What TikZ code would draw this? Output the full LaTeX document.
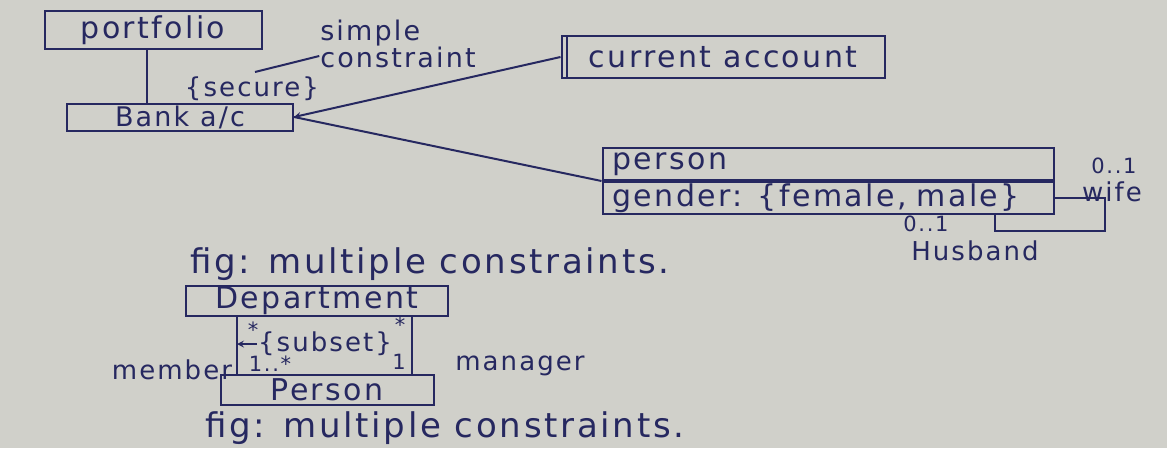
\documentclass[tikz,border=0pt]{standalone}
\usepackage{fontspec}
\setmainfont{DejaVu Sans}[LetterSpace=8]
\usetikzlibrary{positioning, arrows, calc}
\definecolor{paper}{RGB}{208,208,202}
\definecolor{ink}{RGB}{38,40,96}
\tikzset{
	>=stealth,
	box/.style={draw, rectangle, inner sep=0pt, font=\fontsize{30}{32}\selectfont},
	cls/.style={box, align=left, inner xsep=10pt},
	lbl/.style={inner sep=0pt, font=\fontsize{26}{28}\selectfont},
	mult/.style={inner sep=0pt, font=\fontsize{21}{23}\selectfont},
	figcap/.style={inner sep=0pt, font=\fontsize{34}{36}\selectfont},
}

\begin{document}
\begin{tikzpicture}[x=1pt, y=-1pt, line width=2pt, color=ink]
			\fill[paper] (0,0) rectangle (1167,448);
			\useasboundingbox (0,0) rectangle (1167,448);

			% secure association
			\node[box, minimum width=217pt, minimum height=38pt] (portfolio) at (153,30) {portfolio};
			\node[box, minimum width=226pt, minimum height=27pt, font=\fontsize{27}{29}\selectfont] (bankac) at (180,117) {Bank a/c};
			\node[lbl] (secure) at (252,89) {\{secure\}};
			\node[lbl, align=left, font=\fontsize{27}{22}\selectfont] (simplecons) at (398,44) {simple\\constraint};
			\coordinate (consptr) at (255,72);
			\node[box, minimum width=323pt, minimum height=42pt] (curacc) at (723,57) {current account};
			\node[cls, text width=431pt, minimum height=32pt] (pname) at (828,164) {person};
			\node[cls, text width=431pt, minimum height=32pt, below=0pt of pname] (pgender) {gender: \{female, male\}};

			\draw (portfolio.south -| 147,0) -- (bankac.north -| 147,0);
			\draw (consptr) -- ([yshift=-12pt]simplecons.west);
			\draw[->] (curacc.west) -- (bankac.east);
			\draw (pname.south west) -- (bankac.east);
			\draw ([xshift=6pt]curacc.north west) -- ([xshift=6pt]curacc.south west);

			% wife / husband
			\coordinate (loopr) at (1105,231);
			\coordinate (loopl) at (995,231);
			\draw (pgender.east) -| (loopr) -- (loopl) -- (loopl |- pgender.south);
			\node[mult] (wifemult) at (1114,166) {0..1};
			\node[lbl] (wife) at (1112,192) {wife};
			\node[mult] (husbmult) at (926,224) {0..1};
			\node[lbl] (husband) at (975,251) {Husband};

			\node[figcap] (figone) at (430,264) {fig: multiple constraints.};

			% subset
			\node[box, minimum width=262pt, minimum height=30pt] (dept) at (317,301) {Department};
			\node[box, minimum width=213pt, minimum height=30pt] (pers) at (327,390) {Person};
			\coordinate (memx) at (237,0);
			\coordinate (mgrx) at (412,0);
			\draw (dept.south -| memx) -- (pers.north -| memx);
			\draw (dept.south -| mgrx) -- (pers.north -| mgrx);
			\node[mult] (memstar) at (253,330) {*};
			\node[mult] (mgrstar) at (400,325) {*};
			\node[lbl] (subset) at (325,344) {\{subset\}};
			\draw[->] (subset.west) -- (subset.west -| memx);
			\node[lbl] (member) at (172,370) {member};
			\node[mult] (memmult) at (270,364) {1..*};
			\node[mult] (mgrmult) at (399,362) {1};
			\node[lbl] (manager) at (520,366) {manager};

			\node[figcap] (figtwo) at (445,428) {fig: multiple constraints.};
\end{tikzpicture}
\end{document}
